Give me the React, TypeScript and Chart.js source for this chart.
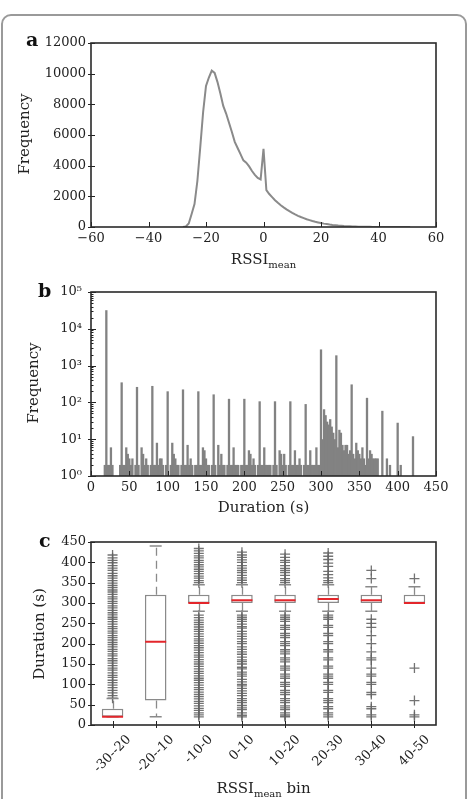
import React, { useEffect, useRef } from 'react';
import { Chart, registerables } from 'chart.js';

Chart.register(...registerables);

const SERIF = '"DejaVu Serif", serif';
const INK = '#222';

// ---- a: distribution of RSSI_mean (1 dB bins) ----
const rssiMean = [
  -28, -27, -26, -25, -24, -23, -22, -21, -20, -19, -18, -17, -16, -15, -14, -13,
  -12, -11, -10, -9, -8, -7, -6, -5, -4, -3, -2, -1, 0, 1, 2, 3, 4, 5, 6, 7, 8, 9,
  10, 11, 12, 13, 14, 15, 16, 17, 18, 19, 20, 21, 22, 23, 24, 25, 26, 27, 28, 29,
  30, 31, 32, 33, 34, 35, 36, 37, 38, 39, 40, 41, 42, 43, 44, 45, 46, 47, 48, 49, 50, 51,
];
const rssiFrequency = [
  0, 40, 230, 850, 1500, 3000, 5200, 7500, 9200, 9750, 10200, 10050, 9450, 8700, 7900, 7400,
  6800, 6200, 5550, 5150, 4750, 4350, 4200, 3950, 3650, 3400, 3200, 3100, 5100, 2400, 2150, 1950, 1750, 1580, 1420, 1280, 1150, 1030,
  920, 820, 730, 650, 580, 510, 450, 390, 340, 300, 260, 220, 190, 160, 135, 115, 95, 80, 65, 55,
  45, 37, 30, 24, 19, 15, 12, 9, 7, 5, 4, 3, 3, 2, 2, 1, 1, 1, 1, 0, 0, 0,
];

// ---- b: histogram of durations (2 s bins, first bin centred on 16 s) ----
const durationBinStart = 16;
const durationBinWidth = 2;
const durationCounts = [
  0, 2,
  32000, 2, 2, 6, 2, 0, 0, 0, 0, 2,
  350, 2, 2, 6, 4, 3, 2, 3, 1, 2,
  263, 2, 1, 6, 4, 2, 3, 2, 1, 2,
  280, 2, 2, 8, 2, 3, 3, 2, 1, 2,
  200, 1, 2, 8, 4, 3, 2, 2, 1, 2,
  225, 2, 2, 7, 2, 3, 2, 1, 2, 2,
  200, 2, 2, 6, 5, 3, 2, 2, 1, 2,
  165, 2, 1, 7, 2, 4, 2, 2, 1, 2,
  125, 2, 2, 6, 2, 2, 2, 1, 2, 2,
  125, 2, 2, 5, 4, 2, 3, 2, 1, 2,
  107, 2, 2, 6, 2, 2, 2, 2, 1, 2,
  107, 2, 1, 5, 4, 2, 4, 2, 1, 2,
  107, 2, 2, 5, 2, 2, 3, 2, 1, 2,
  90, 2, 2, 5, 2, 2, 2, 6, 2, 2,
  2750, 10, 65, 45, 30, 25, 35, 22, 15, 10,
  1900, 6, 18, 15, 7, 5, 7, 7, 4, 5,
  308, 4, 3, 8, 5, 4, 3, 6, 3, 2,
  133, 3, 5, 4, 3, 3, 3, 3, 0, 0,
  59, 0, 0, 3, 0, 2, 0, 0, 0, 0,
  28, 0, 2, 0, 0, 0, 0, 0, 0, 0,
  12,
];
const logTickValues = [1, 10, 100, 1000, 10000, 100000];
const superscripts = ['\u2070', '\u00b9', '\u00b2', '\u00b3', '\u2074', '\u2075'];

// ---- c: duration per RSSI_mean bin (box plot) ----
const rssiBins = ['-30--20', '-20--10', '-10-0', '0-10', '10-20', '20-30', '30-40', '40-50'];
const boxQ1 = [20, 60, 300, 300, 300, 300, 300, 300];
const boxMedian = [20, 205, 300, 307, 307, 310, 307, 300];
const boxQ3 = [40, 320, 320, 320, 320, 320, 320, 320];
const whiskerLow = [20, 20, 280, 280, 280, 280, 280, 300];
const whiskerHigh = [65, 440, 345, 345, 345, 345, 340, 340];
const outliers: number[][] = [
  [66, 72, 79, 85, 92, 98, 104, 110, 117, 122, 128, 135, 140, 146, 152, 158, 163, 170, 175, 181, 186, 192,
    198, 203, 209, 215, 220, 226, 231, 237, 242, 248, 254, 260, 265, 271, 276, 282, 288, 293, 299, 304, 310,
    315, 321, 327, 332, 338, 343, 349, 355, 361, 367, 373, 380, 386, 392, 399, 405, 411, 418],
  [],
  [20, 25, 30, 36, 41, 47, 53, 58, 64, 70, 75, 81, 87, 92, 98, 104, 110, 115, 121, 127, 132, 138, 144, 150,
    155, 161, 167, 172, 178, 184, 190, 195, 201, 207, 212, 218, 224, 230, 235, 241, 247, 252, 258, 264, 270,
    350, 355, 361, 366, 372, 378, 383, 389, 394, 400, 405, 411, 416, 422, 428, 434],
  [20, 24, 30, 38, 42, 48, 55, 60, 65, 72, 78, 84, 90, 96, 100, 106, 112, 120, 125, 130, 138, 142, 150, 156,
    160, 167, 174, 180, 186, 192, 200, 205, 212, 218, 224, 230, 238, 242, 248, 255, 260, 265, 270,
    350, 356, 362, 368, 375, 380, 386, 392, 400, 406, 412, 418, 425],
  [20, 22, 25, 30, 38, 42, 47, 55, 60, 65, 75, 80, 85, 95, 100, 105, 115, 120, 125, 135, 140, 145, 155, 160,
    165, 175, 180, 185, 195, 200, 205, 215, 220, 225, 235, 240, 245, 255, 260, 265, 270,
    350, 355, 360, 368, 375, 380, 385, 392, 400, 405, 412, 420],
  [20, 25, 30, 40, 45, 55, 60, 65, 80, 85, 100, 105, 115, 120, 125, 140, 145, 160, 165, 180, 185, 200, 205,
    220, 225, 240, 245, 260, 265, 270, 350, 355, 362, 370, 378, 390, 398, 407, 415, 423],
  [20, 25, 40, 45, 75, 80, 100, 105, 120, 125, 140, 160, 165, 180, 200, 220, 240, 250, 260, 360, 380],
  [20, 25, 60, 140, 360],
];

const tickFont = { family: SERIF, size: 13 };
const noGrid = { display: false, drawTicks: false };
const noBorder = { display: false };
const plain = (v: any) => String(v);
const withMinus = (v: any) => (Number(v) < 0 ? '\u2212' + Math.abs(Number(v)) : String(v));

// Box frame plus tick marks (drawn by hand so they can point into the plot)
const frameTicks = {
  id: 'frameTicks',
  afterDatasetsDraw(chart: any, _args: any, o: any) {
    const { ctx, chartArea: a } = chart;
    const xs = chart.scales.x;
    const ys = chart.scales.y;
    ctx.save();
    ctx.strokeStyle = INK;
    ctx.lineWidth = 1;
    xs.ticks.forEach((_t: any, i: number) => {
      const px = Math.round(xs.getPixelForTick(i)) + 0.5;
      ctx.beginPath();
      ctx.moveTo(px, a.bottom + (o.xOut || 0));
      ctx.lineTo(px, a.bottom - (o.xIn || 0));
      ctx.stroke();
    });
    const yTick = (py: number, inLen: number, outLen: number) => {
      const y = Math.round(py) + 0.5;
      ctx.beginPath();
      ctx.moveTo(a.left - outLen, y);
      ctx.lineTo(a.left + inLen, y);
      ctx.stroke();
    };
    ys.ticks.forEach((_t: any, i: number) => yTick(ys.getPixelForTick(i), o.yIn || 0, o.yOut || 0));
    if (o.logMinor) {
      for (let k = 0; k < 5; k++) {
        for (let m = 2; m < 10; m++) {
          yTick(ys.getPixelForValue(m * Math.pow(10, k)), 2.5, 0);
        }
      }
    }
    ctx.strokeStyle = '#2a2a2a';
    ctx.lineWidth = 1.6;
    ctx.strokeRect(a.left, a.top, a.right - a.left, a.bottom - a.top);
    ctx.restore();
  },
};

type Run = { text: string; sub?: boolean };

// Panel letter, axis titles (with subscripts) and rotated category labels
const panelText = {
  id: 'panelText',
  afterDraw(chart: any, _args: any, o: any) {
    const ctx = chart.ctx;
    const a = chart.chartArea;
    ctx.save();
    ctx.fillStyle = '#111';
    ctx.font = `bold 19px ${SERIF}`;
    ctx.textAlign = 'left';
    ctx.textBaseline = 'alphabetic';
    ctx.fillText(o.letter, o.letterX, o.letterY);

    ctx.fillStyle = INK;
    ctx.save();
    ctx.translate(o.yTitleX, o.yTitleY);
    ctx.rotate(-Math.PI / 2);
    ctx.font = `15px ${SERIF}`;
    ctx.textAlign = 'center';
    ctx.textBaseline = 'middle';
    ctx.fillText(o.yTitle, 0, 0);
    ctx.restore();

    const runs: Run[] = o.xTitle;
    const fontOf = (r: Run) => (r.sub ? `10px ${SERIF}` : `15px ${SERIF}`);
    let total = 0;
    runs.forEach((r) => {
      ctx.font = fontOf(r);
      total += ctx.measureText(r.text).width;
    });
    let x = (a.left + a.right) / 2 - total / 2;
    ctx.textAlign = 'left';
    runs.forEach((r) => {
      ctx.font = fontOf(r);
      ctx.fillText(r.text, x, o.xTitleY + (r.sub ? 4 : 0));
      x += ctx.measureText(r.text).width;
    });

    if (o.rotatedLabels) {
      const xs = chart.scales.x;
      ctx.font = `13px ${SERIF}`;
      ctx.textAlign = 'center';
      ctx.textBaseline = 'middle';
      xs.ticks.forEach((t: any, i: number) => {
        const label = String(xs.getLabelForValue(t.value));
        const w = ctx.measureText(label).width;
        const half = ((w + 13) * Math.SQRT1_2) / 2;
        const px = xs.getPixelForTick(i);
        ctx.save();
        ctx.translate(px, a.bottom + 8 + half);
        ctx.rotate(-Math.PI / 4);
        ctx.fillText(label, 0, 0);
        ctx.restore();
      });
    }
    ctx.restore();
  },
};

// Dashed whisker stems of the box plot
const whiskers = {
  id: 'whiskers',
  beforeDatasetsDraw(chart: any) {
    const { ctx } = chart;
    const xs = chart.scales.x;
    const ys = chart.scales.y;
    ctx.save();
    ctx.strokeStyle = '#8a8a8a';
    ctx.lineWidth = 1.3;
    ctx.setLineDash([8, 5]);
    rssiBins.forEach((_b, i) => {
      const px = Math.round(xs.getPixelForValue(i)) + 0.5;
      ctx.beginPath();
      ctx.moveTo(px, ys.getPixelForValue(boxQ3[i]));
      ctx.lineTo(px, ys.getPixelForValue(whiskerHigh[i]));
      ctx.moveTo(px, ys.getPixelForValue(boxQ1[i]));
      ctx.lineTo(px, ys.getPixelForValue(whiskerLow[i]));
      ctx.stroke();
    });
    ctx.restore();
  },
};

const baseOptions = {
  animation: false as const,
  responsive: false,
  maintainAspectRatio: false,
  devicePixelRatio: 1,
  events: [] as any[],
};

export default function App() {
  const aRef = useRef<HTMLCanvasElement>(null);
  const bRef = useRef<HTMLCanvasElement>(null);
  const cRef = useRef<HTMLCanvasElement>(null);

  useEffect(() => {
    Chart.defaults.font.family = SERIF;
    const charts: Chart[] = [];

    charts.push(
      new Chart(aRef.current as HTMLCanvasElement, {
        type: 'line',
        data: {
          datasets: [
            {
              data: rssiMean.map((x, i) => ({ x, y: rssiFrequency[i] })),
              borderColor: '#8a8a8a',
              borderWidth: 2,
              pointRadius: 0,
              tension: 0,
              fill: false,
            },
          ],
        },
        options: {
          ...baseOptions,
          layout: { padding: { left: 0, top: 43, right: 31, bottom: 0 } },
          plugins: {
            legend: { display: false },
            tooltip: { enabled: false },
            frameTicks: { xIn: 5, yIn: 4, yOut: 3 },
            panelText: {
              letter: 'a', letterX: 26, letterY: 46,
              yTitle: 'Frequency', yTitleX: 25, yTitleY: 134,
              xTitle: [{ text: 'RSSI' }, { text: 'mean', sub: true }], xTitleY: 264,
            },
          } as any,
          scales: {
            x: {
              type: 'linear', min: -60, max: 60,
              ticks: { stepSize: 20, font: tickFont, color: INK, padding: 4, maxRotation: 0, callback: withMinus },
              grid: noGrid, border: noBorder,
              afterFit: (s: any) => { s.height = 43; },
            },
            y: {
              type: 'linear', min: 0, max: 12000,
              ticks: { stepSize: 2000, font: tickFont, color: INK, padding: 5, callback: plain },
              grid: noGrid, border: noBorder,
              afterFit: (s: any) => { s.width = 91; },
            },
          },
        },
        plugins: [frameTicks, panelText],
      } as any)
    );

    charts.push(
      new Chart(bRef.current as HTMLCanvasElement, {
        type: 'bar',
        data: {
          datasets: [
            {
              data: durationCounts.map((c, i) => ({ x: durationBinStart + i * durationBinWidth, y: c })),
              backgroundColor: '#828282',
              borderWidth: 0,
              barPercentage: 1.5,
              categoryPercentage: 1,
            },
          ],
        },
        options: {
          ...baseOptions,
          layout: { padding: { left: 0, top: 22, right: 31, bottom: 0 } },
          plugins: {
            legend: { display: false },
            tooltip: { enabled: false },
            frameTicks: { xIn: 5, yIn: 5, yOut: 3, logMinor: true },
            panelText: {
              letter: 'b', letterX: 38, letterY: 27,
              yTitle: 'Frequency', yTitleX: 34, yTitleY: 113,
              xTitle: [{ text: 'Duration (s)' }], xTitleY: 242,
            },
          } as any,
          scales: {
            x: {
              type: 'linear', min: 0, max: 450, offset: false,
              ticks: { stepSize: 50, font: tickFont, color: INK, padding: 4, maxRotation: 0, callback: plain },
              grid: { ...noGrid, offset: false }, border: noBorder,
              afterFit: (s: any) => { s.height = 44; },
            },
            y: {
              type: 'logarithmic', min: 1, max: 100000,
              afterBuildTicks: (s: any) => { s.ticks = logTickValues.map((value) => ({ value })); },
              ticks: {
                font: tickFont, color: INK, padding: 9, autoSkip: false,
                callback: (v: any) => '10' + superscripts[Math.round(Math.log10(Number(v)))],
              },
              grid: noGrid, border: noBorder,
              afterFit: (s: any) => { s.width = 91; },
            },
          },
        },
        plugins: [frameTicks, panelText],
      } as any)
    );

    const flierPoints = rssiBins.flatMap((b, i) => outliers[i].map((y) => ({ x: b, y })));

    charts.push(
      new Chart(cRef.current as HTMLCanvasElement, {
        type: 'bar',
        data: {
          labels: rssiBins,
          datasets: [
            {
              type: 'scatter',
              data: flierPoints,
              pointStyle: 'cross',
              pointRadius: 5,
              borderColor: 'rgba(100,100,100,0.9)',
              borderWidth: 1.3,
              order: 3,
            },
            {
              type: 'bar',
              data: rssiBins.map((_b, i) => [boxQ1[i], boxQ3[i]]),
              backgroundColor: '#ffffff',
              borderColor: '#8a8a8a',
              borderWidth: 1.5,
              borderSkipped: false,
              barPercentage: 0.5,
              categoryPercentage: 1,
              order: 2,
            },
            {
              type: 'scatter',
              data: rssiBins.flatMap((b, i) => [{ x: b, y: whiskerLow[i] }, { x: b, y: whiskerHigh[i] }]),
              pointStyle: 'line',
              pointRadius: 6,
              borderColor: '#8a8a8a',
              borderWidth: 1.5,
              order: 1,
            },
            {
              type: 'scatter',
              data: rssiBins.map((b, i) => ({ x: b, y: boxMedian[i] })),
              pointStyle: 'line',
              pointRadius: 10.5,
              borderColor: '#e3262b',
              borderWidth: 2,
              order: 0,
            },
          ],
        },
        options: {
          ...baseOptions,
          layout: { padding: { left: 0, top: 22, right: 31, bottom: 0 } },
          plugins: {
            legend: { display: false },
            tooltip: { enabled: false },
            frameTicks: { xIn: 4, xOut: 3, yIn: 4, yOut: 3 },
            panelText: {
              letter: 'c', letterX: 39, letterY: 27,
              yTitle: 'Duration (s)', yTitleX: 40, yTitleY: 114,
              xTitle: [{ text: 'RSSI' }, { text: 'mean', sub: true }, { text: ' bin' }], xTitleY: 273,
              rotatedLabels: true,
            },
          } as any,
          scales: {
            x: {
              type: 'category', offset: true,
              ticks: { display: false },
              grid: { ...noGrid, offset: true }, border: noBorder,
              afterFit: (s: any) => { s.height = 74; },
            },
            y: {
              type: 'linear', min: 0, max: 450,
              ticks: { stepSize: 50, font: tickFont, color: INK, padding: 5, callback: plain },
              grid: noGrid, border: noBorder,
              afterFit: (s: any) => { s.width = 91; },
            },
          },
        },
        plugins: [whiskers, frameTicks, panelText],
      } as any)
    );

    return () => charts.forEach((c) => c.destroy());
  }, []);

  return (
    <div style={{ position: 'absolute', left: 0, top: 0, width: 467, height: 799, background: '#fff', overflow: 'hidden' }}>
      <div
        style={{
          position: 'absolute', left: 1, top: 14, width: 466, height: 830,
          border: '2px solid #9a9a9a', borderRadius: 10, boxSizing: 'border-box',
        }}
      />
      <canvas ref={aRef} width={467} height={270} style={{ position: 'absolute', left: 0, top: 0 }} />
      <canvas ref={bRef} width={467} height={250} style={{ position: 'absolute', left: 0, top: 270 }} />
      <canvas ref={cRef} width={467} height={279} style={{ position: 'absolute', left: 0, top: 520 }} />
    </div>
  );
}
